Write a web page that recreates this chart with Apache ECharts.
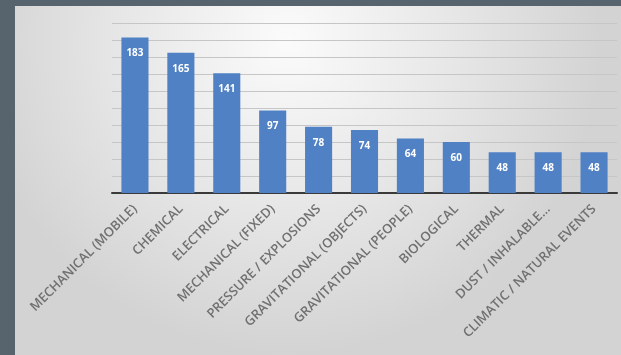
<!DOCTYPE html>
<html>
<head>
<meta charset="utf-8">
<script src="https://cdn.jsdelivr.net/npm/echarts@6/dist/echarts.min.js"></script>
<style>
  html, body { margin: 0; padding: 0; width: 621px; height: 355px; overflow: hidden; background: #57636d; }
  #chart { position: absolute; left: 15px; top: 6px; width: 606px; height: 349px; }
</style>
</head>
<body>
<div id="chart"></div>
<script>
// Hazard categories and number of incidents per category
const categories = [
  'MECHANICAL (MOBILE)', 'CHEMICAL', 'ELECTRICAL', 'MECHANICAL (FIXED)',
  'PRESSURE / EXPLOSIONS', 'GRAVITATIONAL (OBJECTS)', 'GRAVITATIONAL (PEOPLE)',
  'BIOLOGICAL', 'THERMAL', 'DUST / INHALABLE...', 'CLIMATIC / NATURAL EVENTS'
];
const counts = [183, 165, 141, 97, 78, 74, 64, 60, 48, 48, 48];
const axisMax = 200;
const axisStep = 20;

const chart = echarts.init(document.getElementById('chart'), null, { renderer: 'canvas' });

chart.setOption({
  animation: false,
  backgroundColor: {
    type: 'radial', x: 0.45, y: 0.1, r: 0.9,
    colorStops: [
      { offset: 0, color: '#fbfbfb' },
      { offset: 0.55, color: '#e6e6e6' },
      { offset: 1, color: '#d3d3d3' }
    ]
  },
  grid: { left: 97, right: 4, top: 17, bottom: 162, containLabel: false },
  xAxis: {
    type: 'category',
    data: categories,
    axisTick: { show: false },
    axisLine: { lineStyle: { color: '#3a3a3a', width: 2 } },
    axisLabel: {
      rotate: 45,
      interval: 0,
      margin: 14,
      color: '#707070',
      fontFamily: 'Open Sans',
      fontWeight: 600,
      fontSize: 13
    }
  },
  yAxis: {
    type: 'value',
    min: 0,
    max: axisMax,
    interval: axisStep,
    axisLabel: { show: false },
    axisLine: { show: false },
    axisTick: { show: false },
    splitLine: { lineStyle: { color: '#c6c6c6', width: 1 } }
  },
  series: [{
    type: 'bar',
    data: counts,
    barCategoryGap: '41%',
    itemStyle: { color: '#4f81c4' },
    label: {
      show: true,
      position: 'insideTop',
      distance: 11,
      color: '#ffffff',
      fontFamily: 'Open Sans',
      fontWeight: 'bold',
      fontSize: 10
    }
  }]
});
</script>
</body>
</html>
